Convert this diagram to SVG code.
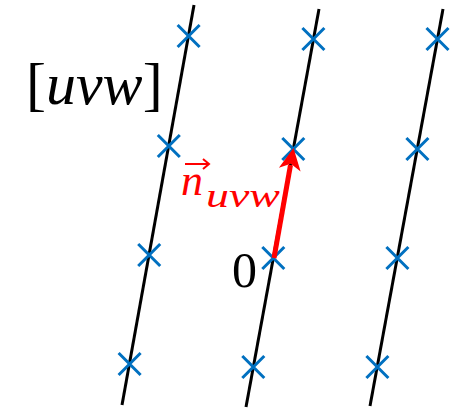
<svg xmlns="http://www.w3.org/2000/svg" xmlns:xlink="http://www.w3.org/1999/xlink" width="462" height="409" viewBox="0 0 462 409">
  <style>
    .line { stroke: #000; stroke-width: 3; fill: none; stroke-linecap: butt; }
    .cross { stroke: #0070C0; stroke-width: 3; fill: none; }
    .txt { font-family: "Liberation Serif", "DejaVu Serif", serif; fill: #000; }
    .red { fill: #FF0000; }
  </style>
  <defs>
    <path id="x" class="cross" d="M-11,-11 L11,11 M-11,11 L11,-11"/>
  </defs>
  <rect width="462" height="409" fill="#fff"/>
  <g id="connectors">
    <line class="line" x1="194" y1="5" x2="122" y2="405"/>
    <line class="line" x1="319" y1="9" x2="246" y2="407"/>
    <line class="line" x1="443" y1="9" x2="370" y2="406"/>
  </g>
  <g id="lattice-points">
    <use xlink:href="#x" x="188.6" y="36"/>
    <use xlink:href="#x" x="168.8" y="146"/>
    <use xlink:href="#x" x="149.2" y="255"/>
    <use xlink:href="#x" x="129.6" y="364"/>
    <use xlink:href="#x" x="313.4" y="39"/>
    <use xlink:href="#x" x="293.3" y="149"/>
    <use xlink:href="#x" x="273.3" y="258"/>
    <use xlink:href="#x" x="253.3" y="367"/>
    <use xlink:href="#x" x="437.5" y="39"/>
    <use xlink:href="#x" x="417.4" y="149"/>
    <use xlink:href="#x" x="397.4" y="258"/>
    <use xlink:href="#x" x="377.4" y="367"/>
  </g>
  <g id="normal-vector">
    <line x1="274" y1="258" x2="290.5" y2="165" stroke="#FF0000" stroke-width="5"/>
    <polygon class="red" points="293.5,148 300.6,171.6 290.8,163.8 278.9,167.8"/>
  </g>
  <g id="label-uvw">
    <text class="txt" x="26" y="104" font-size="60">[<tspan font-style="italic">uvw</tspan>]</text>
  </g>
  <g id="label-origin">
    <text class="txt" x="232" y="287" font-size="50">0</text>
  </g>
  <g id="label-n">
    <text class="txt red" x="181" y="195" font-size="44" font-style="italic">n</text>
    <text class="txt red" x="206" y="207" font-size="34" font-style="italic" textLength="74" lengthAdjust="spacingAndGlyphs">uvw</text>
    <path d="M185,164 L209,164 M203,159 L209,164 L203,169" stroke="#FF0000" stroke-width="2" fill="none"/>
  </g>
</svg>
